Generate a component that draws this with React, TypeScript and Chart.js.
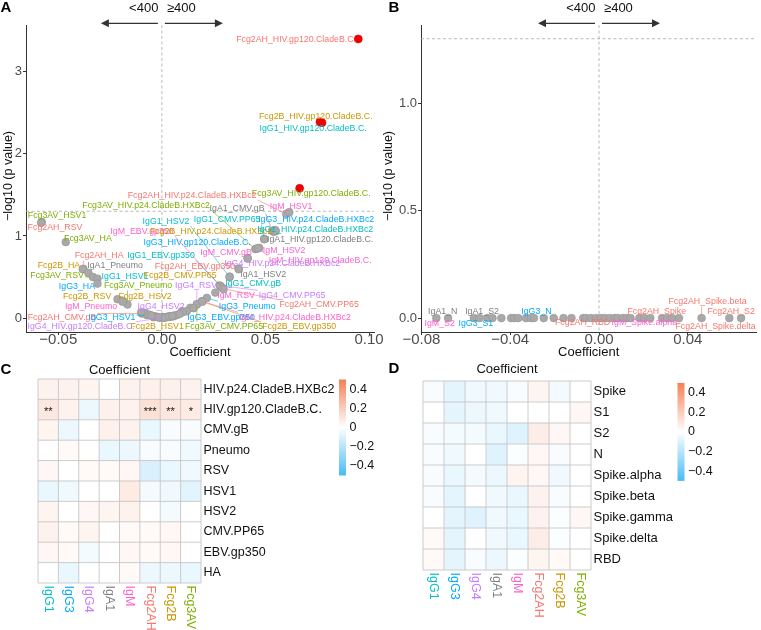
import React, { useEffect, useRef } from "react";
import { Chart, registerables } from "chart.js";

Chart.register(...registerables);

const FONT = '"Liberation Sans", Arial, Helvetica, sans-serif';
Chart.defaults.font.family = FONT;

const isotypes = ["IgG1", "IgG3", "IgG4", "IgA1", "IgM", "Fcg2AH", "Fcg2B", "Fcg3AV"];
const isotypeColors = ["#00BFC4", "#00A9FF", "#C77CFF", "#7F7F7F", "#FF61CC", "#F8766D", "#CD9600", "#7CAE00"];

const SIG_LINE = 1.301; // -log10(0.05)

// ---------------- Panel A (volcano, non-SARS antigens) ----------------
const aNames = [
  "Fcg2AH_HIV.gp120.CladeB.C.", "Fcg2B_HIV.gp120.CladeB.C.", "IgG1_HIV.gp120.CladeB.C.", "Fcg3AV_HIV.gp120.CladeB.C.",
  "Fcg2AH_HIV.p24.CladeB.HXBc2", "Fcg3AV_HIV.p24.CladeB.HXBc2", "IgA1_CMV.gB", "IgM_HSV1",
  "Fcg3AV_HSV1", "Fcg2AH_RSV", "IgG1_HSV2", "IgG1_CMV.PP65",
  "IgG3_HIV.p24.CladeB.HXBc2", "IgM_EBV.gp350", "Fcg2B_HIV.p24.CladeB.HXBc2", "IgG1_HIV.p24.CladeB.HXBc2",
  "Fcg3AV_HA", "IgG3_HIV.gp120.CladeB.C.", "IgA1_HIV.gp120.CladeB.C.", "Fcg2AH_HA",
  "IgG1_EBV.gp350", "IgM_CMV.gB", "IgM_HSV2", "IgM_HIV.gp120.CladeB.C.",
  "IgG4_HIV.p24.CladeB.HXBc2", "Fcg2B_HA", "IgA1_Pneumo", "Fcg2AH_EBV.gp350",
  "IgA1_HSV2", "Fcg3AV_RSV", "IgG1_HSV1", "Fcg2B_CMV.PP65",
  "IgG3_HA", "Fcg3AV_Pneumo", "IgG4_RSV", "IgG1_CMV.gB",
  "Fcg2B_RSV", "Fcg2B_HSV2", "IgM_RSV", "IgG4_CMV.PP65",
  "IgM_Pneumo", "IgG4_HSV2", "IgG3_Pneumo", "Fcg2AH_CMV.PP65",
  "Fcg2AH_CMV.gB", "IgG3_HSV1", "IgG3_EBV.gp350", "IgM_HIV.p24.CladeB.HXBc2",
  "IgG4_HIV.gp120.CladeB.C.", "Fcg2B_HSV1", "Fcg3AV_CMV.PP65", "Fcg2B_EBV.gp350",
  // unlabeled (hidden in the crowd near the origin)
  "IgG1_Pneumo", "IgG1_RSV", "IgG1_HA", "IgG3_CMV.gB", "IgG3_RSV", "IgG3_HSV2", "IgG3_CMV.PP65",
  "IgG4_CMV.gB", "IgG4_Pneumo", "IgG4_HSV1", "IgG4_EBV.gp350", "IgG4_HA",
  "IgA1_HIV.p24.CladeB.HXBc2", "IgA1_RSV", "IgA1_HSV1", "IgA1_CMV.PP65", "IgA1_EBV.gp350", "IgA1_HA",
  "IgM_CMV.PP65", "IgM_HA", "Fcg2AH_Pneumo", "Fcg2AH_HSV1", "Fcg2AH_HSV2",
  "Fcg2B_CMV.gB", "Fcg2B_Pneumo", "Fcg3AV_CMV.gB", "Fcg3AV_HSV2", "Fcg3AV_EBV.gp350",
];
const aCoef = [
  0.0948, 0.0763, 0.0773, 0.0665,
  0.0600, 0.0451, 0.0534, 0.0615,
  -0.0580, -0.0583, 0.0327, 0.0494,
  0.0547, 0.0282, 0.0540, 0.0550,
  -0.0464, 0.0455, 0.0494, -0.0379,
  0.0285, 0.0414, 0.0470, 0.0466,
  0.0414, -0.0382, -0.0355, 0.0370,
  0.0372, -0.0333, -0.0311, 0.0295,
  -0.0311, -0.0166, 0.0169, 0.0327,
  -0.0214, -0.0188, 0.0258, 0.0280,
  -0.0190, 0.0097, 0.0217, 0.0298,
  -0.0097, -0.0072, 0.0137, 0.0193,
  0.0008, -0.0040, 0.0169, 0.0195,
  0.0005, 0.0032, -0.0032, -0.0080, 0.0056, 0.0010, 0.0040,
  0.0120, -0.0005, 0.0020, 0.0153, -0.0010,
  0.0060, 0.0025, -0.0025, 0.0045, 0.0000, -0.0045,
  0.0070, 0.0100, -0.0060, -0.0100, 0.0085,
  -0.0015, 0.0015, 0.0035, -0.0050, 0.0050,
];
const aLogP = [
  3.40, 2.39, 2.38, 1.58,
  1.27, 0.84, 1.06, 1.29,
  1.17, 1.16, 0.50, 0.965,
  1.07, 0.39, 1.05, 1.06,
  0.925, 0.845, 0.96, 0.60,
  0.385, 0.73, 0.855, 0.85,
  0.725, 0.595, 0.55, 0.60,
  0.595, 0.50, 0.48, 0.36,
  0.42, 0.165, 0.165, 0.505,
  0.23, 0.205, 0.31, 0.395,
  0.20, 0.083, 0.245, 0.355,
  0.055, 0.035, 0.125, 0.205,
  0.010, 0.010, 0.17, 0.20,
  0.005, 0.02, 0.02, 0.062, 0.022, 0.008, 0.018,
  0.083, 0.004, 0.01, 0.12, 0.005,
  0.03, 0.012, 0.015, 0.02, 0.002, 0.025,
  0.035, 0.07, 0.04, 0.07, 0.05,
  0.008, 0.006, 0.016, 0.03, 0.024,
];
// repelled label positions (data units) for the labeled points
const aLabelX = [
  0.0648, 0.0743, 0.0730, 0.0721,
  0.0146, -0.0076, 0.0363, 0.0624,
  -0.0506, -0.0516, 0.0020, 0.0315,
  0.0745, -0.0096, 0.0238, 0.0740,
  -0.0357, 0.0170, 0.0764, -0.0303,
  -0.0004, 0.0310, 0.0590, 0.0764,
  0.0581, -0.0497, -0.0226, 0.0160,
  0.0489, -0.0506, -0.0178, 0.0088,
  -0.0410, -0.0115, 0.0165, 0.0441,
  -0.0361, -0.0081, 0.0358, 0.0629,
  -0.0342, -0.0004, 0.0412, 0.0759,
  -0.0482, -0.0241, 0.0286, 0.0643,
  -0.0390, -0.0023, 0.0300, 0.0663,
];
const aLabelY = [
  3.388, 2.449, 2.311, 1.518,
  1.498, 1.376, 1.335, 1.360,
  1.250, 1.104, 1.180, 1.201,
  1.201, 1.059, 1.059, 1.079,
  0.970, 0.924, 0.957, 0.762,
  0.762, 0.799, 0.827, 0.701,
  0.661, 0.640, 0.640, 0.632,
  0.530, 0.518, 0.510, 0.518,
  0.388, 0.396, 0.396, 0.421,
  0.266, 0.266, 0.274, 0.278,
  0.144, 0.144, 0.144, 0.165,
  0.010, 0.010, 0.010, 0.010,
  -0.107, -0.107, -0.107, -0.107,
];
const aXTicks = [-0.05, 0, 0.05, 0.1];
const aXTickLabels = ["\u22120.05", "0.00", "0.05", "0.10"];
const aYTicks = [0, 1, 2, 3];
const aYTickLabels = ["0", "1", "2", "3"];

// ---------------- Panel B (volcano, SARS-CoV-2 antigens) ----------------
const bNames = [
  "IgA1_N", "IgM_S2", "IgG3_S1", "IgA1_S2", "", "", "", "", "", "",
  "", "", "IgG3_N", "", "", "", "", "", "Fcg2AH_RBD", "",
  "", "", "", "", "", "", "", "", "", "",
  "IgM_Spike.alpha", "", "Fcg2AH_Spike", "", "", "", "Fcg2AH_Spike.beta", "Fcg2AH_S2", "Fcg2AH_Spike.delta",
];
const bCoef = [
  -0.0733, -0.0680, -0.0564, -0.0538, -0.0502, -0.0480, -0.0440, -0.0396, -0.0382, -0.0364,
  -0.0329, -0.0307, -0.0293, -0.0249, -0.0204, -0.0160, -0.0124, -0.0071, -0.0058, -0.0036,
  -0.0013, 0.0009, 0.0027, 0.0049, 0.0071, 0.0084, 0.0107, 0.0124, 0.0142, 0.0182,
  0.0204, 0.0231, 0.0284, 0.0307, 0.0329, 0.0360, 0.0462, 0.0587, 0.0640,
];
const bLogP = [
  0, 0, 0, 0, 0, 0, 0, 0, 0, 0,
  0, 0, 0, 0, 0, 0, 0, 0, 0, 0,
  0, 0, 0, 0, 0, 0, 0, 0, 0, 0,
  0, 0, 0, 0, 0, 0, 0, 0, 0,
];
const bLabelX = [
  -0.0704, -0.0718, -0.0555, -0.0527, null, null, null, null, null, null,
  null, null, -0.0282, null, null, null, null, null, -0.0074, null,
  null, null, null, null, null, null, null, null, null, null,
  0.0204, null, 0.0260, null, null, null, 0.0489, 0.0595, 0.0525,
];
const bLabelY = [
  0.029, -0.028, -0.028, 0.029, null, null, null, null, null, null,
  null, null, 0.029, null, null, null, null, null, -0.023, null,
  null, null, null, null, null, null, null, null, null, null,
  -0.023, null, 0.029, null, null, null, 0.076, 0.029, -0.039,
];
const bXTicks = [-0.08, -0.04, 0, 0.04];
const bXTickLabels = ["\u22120.08", "\u22120.04", "0.00", "0.04"];
const bYTicks = [0, 0.5, 1];
const bYTickLabels = ["0.0", "0.5", "1.0"];

// ---------------- Panel C (heatmap) ----------------
const cRows = ["HIV.p24.CladeB.HXBc2", "HIV.gp120.CladeB.C.", "CMV.gB", "Pneumo", "RSV", "HSV1", "HSV2", "CMV.PP65", "EBV.gp350", "HA"];
const cIgG1 = [0.05, 0.09, 0.04, 0.0, 0.03, -0.06, 0.04, 0.05, 0.03, 0.0];
const cIgG3 = [0.05, 0.05, -0.05, 0.02, 0.0, -0.04, 0.0, 0.02, 0.02, -0.06];
const cIgG4 = [0.04, -0.05, 0.0, 0.0, 0.02, 0.0, 0.03, 0.04, -0.03, 0.0];
const cIgA1 = [0.0, 0.06, 0.06, -0.06, 0.02, 0.0, 0.04, 0.0, 0.0, 0.0];
const cIgM = [0.05, 0.05, 0.05, -0.05, 0.03, 0.08, 0.05, 0.02, 0.03, 0.02];
const cFcg2AH = [0.06, 0.12, -0.06, -0.02, -0.1, -0.03, 0.0, 0.02, 0.02, -0.05];
const cFcg2B = [0.06, 0.1, -0.02, -0.02, -0.06, -0.04, -0.03, 0.03, 0.03, -0.05];
const cFcg3AV = [0.05, 0.08, -0.02, -0.04, -0.04, -0.08, 0.0, 0.0, 0.0, -0.06];
const cStarRow = 1;
const cStars = ["**", "", "", "", "", "***", "**", "*"];

// ---------------- Panel D (heatmap) ----------------
const dRows = ["Spike", "S1", "S2", "N", "Spike.alpha", "Spike.beta", "Spike.gamma", "Spike.delta", "RBD"];
const dIgG1 = [-0.02, 0.0, -0.02, -0.02, -0.02, -0.02, 0.0, 0.02, 0.02];
const dIgG3 = [-0.07, -0.07, -0.03, -0.04, -0.06, -0.07, -0.07, -0.07, -0.07];
const dIgG4 = [-0.04, -0.05, -0.03, 0.0, -0.03, 0.0, -0.09, 0.0, -0.02];
const dIgA1 = [-0.04, -0.04, -0.06, -0.09, -0.05, -0.04, -0.04, -0.04, -0.05];
const dIgM = [-0.02, 0.0, -0.09, -0.01, 0.04, -0.06, -0.06, -0.06, -0.01];
const dFcg2AH = [0.04, 0.0, 0.07, 0.03, 0.03, 0.05, 0.05, 0.07, 0.04];
const dFcg2B = [-0.03, 0.0, 0.03, -0.02, -0.04, -0.02, -0.01, -0.01, 0.02];
const dFcg3AV = [0.0, 0.03, 0.0, 0.0, 0.0, 0.0, 0.03, 0.0, 0.0];

const legendTicks = [0.4, 0.2, 0, -0.2, -0.4];
const legendTickLabels = ["0.4", "0.2", "0", "\u22120.2", "\u22120.4"];
const LEGEND_LIMIT = 0.5;
const HIGH = [244, 128, 86];
const LOW = [72, 187, 244];

function heatColor(v: number) {
  const t = Math.max(-1, Math.min(1, v / LEGEND_LIMIT));
  const c = t >= 0 ? HIGH : LOW;
  const a = Math.abs(t);
  const mix = (k: number) => Math.round(255 + (c[k] - 255) * a);
  return `rgb(${mix(0)},${mix(1)},${mix(2)})`;
}

function colorOf(name: string) {
  const i = isotypes.indexOf(name.split("_")[0]);
  return i >= 0 ? isotypeColors[i] : "#333333";
}

function drawArrow(ctx: CanvasRenderingContext2D, xFrom: number, xTo: number, y: number) {
  const dir = Math.sign(xTo - xFrom);
  ctx.beginPath();
  ctx.moveTo(xFrom, y);
  ctx.lineTo(xTo - dir * 6, y);
  ctx.stroke();
  ctx.beginPath();
  ctx.moveTo(xTo, y);
  ctx.lineTo(xTo - dir * 8, y - 4);
  ctx.lineTo(xTo - dir * 8, y + 4);
  ctx.closePath();
  ctx.fill();
}

type VolcanoOpts = {
  names: string[];
  coef: number[];
  logP: number[];
  labelX: (number | null)[];
  labelY: (number | null)[];
  xMin: number;
  xMax: number;
  yMin: number;
  yMax: number;
  xTicks: number[];
  xTickLabels: string[];
  yTicks: number[];
  yTickLabels: string[];
  yAxisWidth: number;
  padRight: number;
  letter: string;
  letterX: number;
};

function volcanoPlugin(o: VolcanoOpts) {
  return {
    id: "volcanoDecor",
    beforeDatasetsDraw(chart: any) {
      const { ctx, chartArea: a, scales } = chart;
      const x0 = scales.x.getPixelForValue(0);
      const ys = scales.y.getPixelForValue(SIG_LINE);
      ctx.save();
      ctx.strokeStyle = "#a8a8a8";
      ctx.lineWidth = 0.8;
      ctx.setLineDash([3, 2.5]);
      ctx.beginPath();
      ctx.moveTo(x0, a.top);
      ctx.lineTo(x0, a.bottom);
      ctx.moveTo(a.left, ys);
      ctx.lineTo(a.right, ys);
      ctx.stroke();
      ctx.restore();
    },
    afterDatasetsDraw(chart: any) {
      const { ctx, scales } = chart;
      const fs = 8.8;
      ctx.save();
      ctx.font = `${fs}px ${FONT}`;
      ctx.textAlign = "center";
      ctx.textBaseline = "middle";
      const items: any[] = [];
      o.names.forEach((name, i) => {
        const lxv = o.labelX[i];
        const lyv = o.labelY[i];
        if (lxv === null || lxv === undefined || lyv === null || lyv === undefined || !name) return;
        const px = scales.x.getPixelForValue(o.coef[i]);
        const py = scales.y.getPixelForValue(o.logP[i]);
        const lx = scales.x.getPixelForValue(lxv);
        const ly = scales.y.getPixelForValue(lyv);
        const w = ctx.measureText(name).width;
        items.push({ name, px, py, lx, ly, w, color: colorOf(name) });
      });
      // segments
      ctx.lineWidth = 0.6;
      items.forEach((it) => {
        const bx0 = it.lx - it.w / 2 - 1;
        const bx1 = it.lx + it.w / 2 + 1;
        const by0 = it.ly - fs / 2 - 0.5;
        const by1 = it.ly + fs / 2 + 0.5;
        const nx = Math.max(bx0, Math.min(bx1, it.px));
        const ny = Math.max(by0, Math.min(by1, it.py));
        const d = Math.hypot(nx - it.px, ny - it.py);
        if (d > 7) {
          const sx = it.px + ((nx - it.px) / d) * 3;
          const sy = it.py + ((ny - it.py) / d) * 3;
          ctx.strokeStyle = it.color;
          ctx.beginPath();
          ctx.moveTo(sx, sy);
          ctx.lineTo(nx, ny);
          ctx.stroke();
        }
      });
      items.forEach((it) => {
        ctx.fillStyle = it.color;
        ctx.fillText(it.name, it.lx, it.ly);
      });
      ctx.restore();
    },
    afterDraw(chart: any) {
      const { ctx, chartArea: a, scales } = chart;
      const x0 = scales.x.getPixelForValue(0);
      ctx.save();
      // arrows and cut-off text
      ctx.strokeStyle = "#333333";
      ctx.fillStyle = "#333333";
      ctx.lineWidth = 1.2;
      drawArrow(ctx, x0 - 4, x0 - 61, 23.3);
      drawArrow(ctx, x0 + 3, x0 + 61, 23.3);
      ctx.fillStyle = "#111111";
      ctx.font = `13px ${FONT}`;
      ctx.textBaseline = "middle";
      ctx.textAlign = "right";
      ctx.fillText("<400", x0 - 3.5, 8.5);
      ctx.textAlign = "left";
      ctx.fillText("\u2265400", x0 + 5, 8.5);
      // axis titles
      ctx.textAlign = "center";
      ctx.fillText("Coefficient", (a.left + a.right) / 2, a.bottom + 20.5);
      ctx.save();
      ctx.translate(9, 176);
      ctx.rotate(-Math.PI / 2);
      ctx.font = `12.5px ${FONT}`;
      ctx.fillText("\u2212log10 (p value)", 0, 0);
      ctx.restore();
      // panel letter
      ctx.font = `bold 15px ${FONT}`;
      ctx.fillStyle = "#000000";
      ctx.fillText(o.letter, o.letterX, 8);
      ctx.restore();
    },
  };
}

function volcanoConfig(o: VolcanoOpts): any {
  return {
    type: "scatter",
    data: {
      datasets: [
        {
          data: o.coef.map((x, i) => ({ x, y: o.logP[i] })),
          pointRadius: o.logP.map((v) => (v > SIG_LINE ? 4 : 3.9)),
          pointBackgroundColor: o.logP.map((v) => (v > SIG_LINE ? "#f00000" : "#a9a9a9")),
          pointBorderColor: o.logP.map((v) => (v > SIG_LINE ? "#e00000" : "#969696")),
          pointBorderWidth: 0.6,
        },
      ],
    },
    options: {
      animation: false,
      responsive: false,
      maintainAspectRatio: false,
      events: [],
      layout: { padding: { left: 0, top: 25, right: o.padRight, bottom: 0 } },
      plugins: { legend: { display: false }, tooltip: { enabled: false }, title: { display: false } },
      scales: {
        x: {
          type: "linear",
          min: o.xMin,
          max: o.xMax,
          afterBuildTicks: (s: any) => {
            s.ticks = o.xTicks.map((v) => ({ value: v }));
          },
          afterFit: (s: any) => {
            s.height = 30;
            s.paddingLeft = 0;
            s.paddingRight = 0;
          },
          ticks: {
            callback: (_v: any, i: number) => o.xTickLabels[i],
            font: { size: 15, lineHeight: 1 },
            color: "#4d4d4d",
            padding: -3,
            maxRotation: 0,
            minRotation: 0,
            autoSkip: false,
          },
          grid: { drawOnChartArea: false, drawTicks: true, tickLength: 3, tickColor: "#333333", tickWidth: 1 },
          border: { display: true, color: "#333333", width: 1 },
        },
        y: {
          type: "linear",
          min: o.yMin,
          max: o.yMax,
          afterBuildTicks: (s: any) => {
            s.ticks = o.yTicks.map((v) => ({ value: v }));
          },
          afterFit: (s: any) => {
            s.width = o.yAxisWidth;
            s.paddingTop = 0;
            s.paddingBottom = 0;
          },
          ticks: {
            callback: (_v: any, i: number) => o.yTickLabels[i],
            font: { size: 13 },
            color: "#4d4d4d",
            padding: 1,
            autoSkip: false,
          },
          grid: { drawOnChartArea: false, drawTicks: true, tickLength: 3, tickColor: "#333333", tickWidth: 1 },
          border: { display: true, color: "#333333", width: 1 },
        },
      },
    },
    plugins: [volcanoPlugin(o)],
  };
}

type HeatOpts = {
  rows: string[];
  cols: string[];
  values: number[][];
  stars?: { row: number; marks: string[] };
  padLeft: number;
  padTop: number;
  padBottom: number;
  yWidth: number;
  rowFont: number;
  letter: string;
  letterX: number;
  letterY: number;
  titleY: number;
  legendX: number;
  legendW: number;
  legendZero: number;
  legendPPU: number;
};

function heatPlugin(o: HeatOpts) {
  return {
    id: "heatDecor",
    afterDatasetsDraw(chart: any) {
      const { ctx, chartArea: a, scales } = chart;
      const { x, y } = scales;
      const nR = o.rows.length;
      const nC = o.cols.length;
      const rowH = y.getPixelForValue(1) - y.getPixelForValue(0);
      const top0 = y.getPixelForValue(0) - rowH / 2;
      ctx.save();
      ctx.strokeStyle = "#c6c6c6";
      ctx.lineWidth = 0.9;
      ctx.beginPath();
      for (let c = 0; c <= nC; c++) {
        const px = x.getPixelForValue(c);
        ctx.moveTo(px, top0);
        ctx.lineTo(px, top0 + rowH * nR);
      }
      for (let r = 0; r <= nR; r++) {
        const py = top0 + r * rowH;
        ctx.moveTo(x.getPixelForValue(0), py);
        ctx.lineTo(x.getPixelForValue(nC), py);
      }
      ctx.stroke();
      // significance stars
      if (o.stars) {
        ctx.fillStyle = "#111111";
        ctx.font = `11px ${FONT}`;
        ctx.textAlign = "center";
        ctx.textBaseline = "middle";
        const sy = y.getPixelForValue(o.stars.row) + 2;
        o.stars.marks.forEach((m, ci) => {
          if (m) ctx.fillText(m, x.getPixelForValue(ci + 0.5), sy);
        });
      }
      // column labels (rotated, reading downward)
      ctx.font = `12.5px ${FONT}`;
      ctx.textAlign = "left";
      ctx.textBaseline = "middle";
      o.cols.forEach((c, ci) => {
        ctx.save();
        ctx.translate(x.getPixelForValue(ci + 0.5), a.bottom + 2.5);
        ctx.rotate(Math.PI / 2);
        ctx.fillStyle = colorOf(c + "_");
        ctx.fillText(c, 0, 0);
        ctx.restore();
      });
      // title
      ctx.fillStyle = "#111111";
      ctx.font = `13px ${FONT}`;
      ctx.textAlign = "center";
      ctx.fillText("Coefficient", (a.left + a.right) / 2, o.titleY);
      // letter
      ctx.font = `bold 15px ${FONT}`;
      ctx.fillStyle = "#000000";
      ctx.fillText(o.letter, o.letterX, o.letterY);
      // legend colour bar
      const lt = o.legendZero - LEGEND_LIMIT * o.legendPPU;
      const lb = o.legendZero + LEGEND_LIMIT * o.legendPPU;
      const g = ctx.createLinearGradient(0, lt, 0, lb);
      g.addColorStop(0, heatColor(LEGEND_LIMIT));
      g.addColorStop(0.5, "#ffffff");
      g.addColorStop(1, heatColor(-LEGEND_LIMIT));
      ctx.fillStyle = g;
      ctx.fillRect(o.legendX, lt, o.legendW, lb - lt);
      ctx.fillStyle = "#111111";
      ctx.font = `12.5px ${FONT}`;
      ctx.textAlign = "left";
      legendTicks.forEach((v, i) => {
        ctx.fillText(legendTickLabels[i], o.legendX + o.legendW + 3.5, o.legendZero - v * o.legendPPU);
      });
      ctx.restore();
    },
  };
}

function heatConfig(o: HeatOpts): any {
  return {
    type: "bar",
    data: {
      labels: o.rows,
      datasets: o.cols.map((c, ci) => ({
        label: c,
        data: o.rows.map(() => [ci, ci + 1]),
        backgroundColor: o.values[ci].map(heatColor),
        borderWidth: 0,
        grouped: false,
        barPercentage: 1,
        categoryPercentage: 1,
      })),
    },
    options: {
      indexAxis: "y",
      animation: false,
      responsive: false,
      maintainAspectRatio: false,
      events: [],
      layout: { padding: { left: o.padLeft, top: o.padTop, right: 0, bottom: o.padBottom } },
      plugins: { legend: { display: false }, tooltip: { enabled: false }, title: { display: false } },
      scales: {
        x: { type: "linear", min: 0, max: o.cols.length, display: false },
        y: {
          type: "category",
          position: "right",
          offset: true,
          grid: { display: false, drawTicks: false },
          border: { display: false },
          ticks: { color: "#111111", font: { size: o.rowFont }, padding: 2.5, autoSkip: false },
          afterFit: (s: any) => {
            s.width = o.yWidth;
            s.paddingTop = 0;
            s.paddingBottom = 0;
          },
        },
      },
    },
    plugins: [heatPlugin(o)],
  };
}

export default function App() {
  const aRef = useRef<HTMLCanvasElement>(null);
  const bRef = useRef<HTMLCanvasElement>(null);
  const cRef = useRef<HTMLCanvasElement>(null);
  const dRef = useRef<HTMLCanvasElement>(null);

  useEffect(() => {
    const charts: Chart[] = [];
    charts.push(
      new Chart(
        aRef.current!,
        volcanoConfig({
          names: aNames,
          coef: aCoef,
          logP: aLogP,
          labelX: aLabelX,
          labelY: aLabelY,
          xMin: -0.0656,
          xMax: 0.1024,
          yMin: -0.17,
          yMax: 3.57,
          xTicks: aXTicks,
          xTickLabels: aXTickLabels,
          yTicks: aYTicks,
          yTickLabels: aYTickLabels,
          yAxisWidth: 26,
          padRight: 18,
          letter: "A",
          letterX: 6,
        })
      )
    );
    charts.push(
      new Chart(
        bRef.current!,
        volcanoConfig({
          names: bNames,
          coef: bCoef,
          logP: bLogP,
          labelX: bLabelX,
          labelY: bLabelY,
          xMin: -0.0802,
          xMax: 0.0709,
          yMin: -0.065,
          yMax: 1.365,
          xTicks: bXTicks,
          xTickLabels: bXTickLabels,
          yTicks: bYTicks,
          yTickLabels: bYTickLabels,
          yAxisWidth: 41,
          padRight: 0,
          letter: "B",
          letterX: 14,
        })
      )
    );
    charts.push(
      new Chart(
        cRef.current!,
        heatConfig({
          rows: cRows,
          cols: isotypes,
          values: [cIgG1, cIgG3, cIgG4, cIgA1, cIgM, cFcg2AH, cFcg2B, cFcg3AV],
          stars: { row: cStarRow, marks: cStars },
          padLeft: 38,
          padTop: 17,
          padBottom: 47,
          yWidth: 179,
          rowFont: 12.5,
          letter: "C",
          letterX: 6,
          letterY: 8,
          titleY: 8,
          legendX: 339,
          legendW: 7,
          legendZero: 65.5,
          legendPPU: 96,
        })
      )
    );
    charts.push(
      new Chart(
        dRef.current!,
        heatConfig({
          rows: dRows,
          cols: isotypes,
          values: [dIgG1, dIgG3, dIgG4, dIgA1, dIgM, dFcg2AH, dFcg2B, dFcg3AV],
          padLeft: 43,
          padTop: 19,
          padBottom: 60,
          yWidth: 170,
          rowFont: 13,
          letter: "D",
          letterX: 14,
          letterY: 7,
          titleY: 7,
          legendX: 297.5,
          legendW: 7,
          legendZero: 69.9,
          legendPPU: 98,
        })
      )
    );
    return () => charts.forEach((c) => c.destroy());
  }, []);

  const cv = (left: number, top: number, w: number, h: number): React.CSSProperties => ({
    position: "absolute",
    left,
    top,
    width: w,
    height: h,
  });

  return (
    <div style={{ position: "fixed", left: 0, top: 0, width: 761, height: 630, background: "#ffffff", overflow: "hidden" }}>
      <canvas ref={aRef} width={392} height={362} style={cv(0, 0, 392, 362)} />
      <canvas ref={bRef} width={381} height={362} style={cv(380, 0, 381, 362)} />
      <canvas ref={cRef} width={380} height={268} style={cv(0, 362, 380, 268)} />
      <canvas ref={dRef} width={381} height={268} style={cv(380, 362, 381, 268)} />
    </div>
  );
}
